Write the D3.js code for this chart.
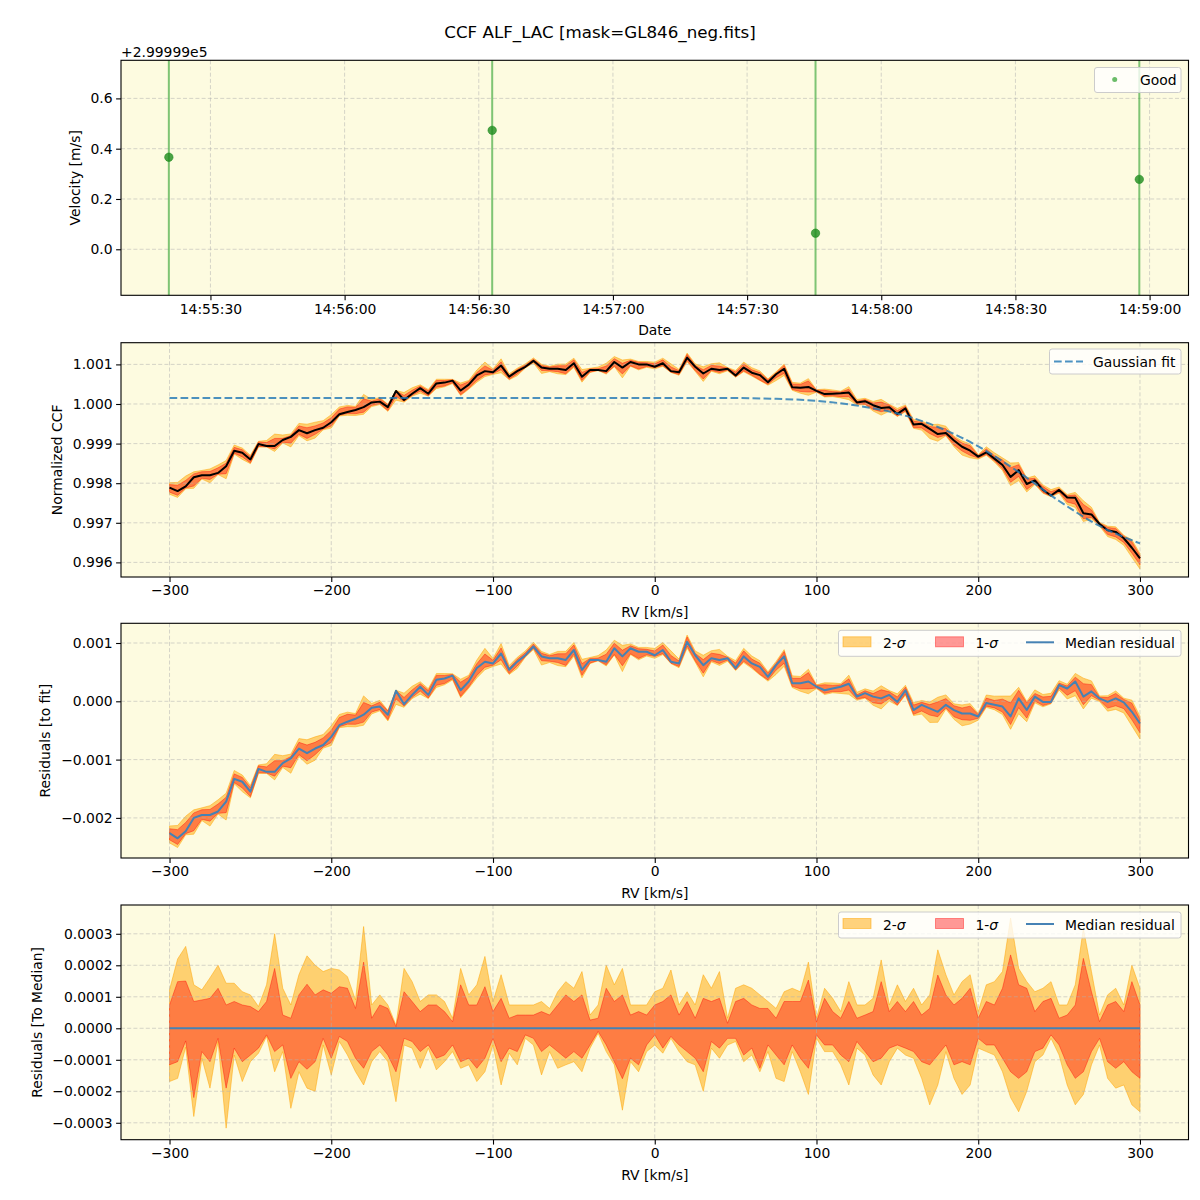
<!DOCTYPE html>
<html><head><meta charset="utf-8">
<script src="https://cdn.jsdelivr.net/npm/d3@7"></script>
<style>body{margin:0;background:#fff} text{font-family:"DejaVu Sans",sans-serif;fill:#000}</style>
</head><body><svg id="c" width="1200" height="1200"></svg>
<script>
// ---------------- DATA ----------------
const rv = d3.range(-300, 301, 5); // km/s sampling grid
// median residual to the Gaussian fit, units of 1e-3
const residMed = [-2.26,-2.35,-2.23,-2.00,-1.95,-1.95,-1.89,-1.72,-1.33,-1.38,-1.55,-1.16,-1.21,-1.21,-1.06,-0.98,-0.81,-0.89,-0.81,-0.75,
 -0.61,-0.41,-0.35,-0.30,-0.23,-0.11,-0.09,-0.23,0.18,-0.05,0.11,0.25,0.11,0.37,0.39,0.44,0.19,0.34,0.57,0.68,
 0.65,0.82,0.54,0.68,0.79,0.94,0.77,0.74,0.74,0.71,0.88,0.54,0.71,0.71,0.68,0.91,0.77,0.91,0.85,0.85,
 0.79,0.88,0.68,0.65,1.02,0.79,0.62,0.74,0.71,0.74,0.57,0.77,0.65,0.59,0.42,0.62,0.77,0.31,0.31,0.34,
 0.25,0.19,0.22,0.25,0.30,0.08,0.14,0.08,0.05,0.11,-0.01,0.19,-0.15,-0.06,-0.12,-0.18,-0.06,-0.15,-0.21,-0.21,
 -0.26,-0.03,-0.06,-0.09,-0.26,0.05,-0.15,0.08,-0.01,-0.01,0.28,0.22,0.34,0.08,0.17,0.05,-0.01,0.05,-0.02,-0.18,-0.38];
// median normalized CCF minus 1, units of 1e-3
const ccfOff = [-2.11,-2.20,-2.08,-1.85,-1.80,-1.80,-1.74,-1.57,-1.18,-1.23,-1.40,-1.01,-1.06,-1.06,-0.91,-0.83,-0.66,-0.74,-0.66,-0.60,
 -0.46,-0.26,-0.20,-0.15,-0.08,0.04,0.06,-0.08,0.33,0.10,0.26,0.40,0.26,0.52,0.54,0.59,0.34,0.49,0.72,0.83,
 0.80,0.97,0.69,0.83,0.94,1.09,0.92,0.89,0.89,0.86,1.03,0.69,0.86,0.86,0.83,1.06,0.92,1.06,1.00,1.00,
 0.94,1.03,0.83,0.80,1.17,0.94,0.77,0.89,0.86,0.89,0.72,0.92,0.79,0.73,0.55,0.75,0.89,0.42,0.41,0.43,
 0.33,0.25,0.26,0.27,0.29,0.04,0.07,-0.03,-0.10,-0.08,-0.25,-0.11,-0.52,-0.50,-0.63,-0.76,-0.73,-0.92,-1.08,-1.18,
 -1.33,-1.22,-1.38,-1.54,-1.84,-1.67,-2.02,-1.93,-2.17,-2.31,-2.17,-2.36,-2.37,-2.76,-2.79,-3.03,-3.19,-3.23,-3.39,-3.63,-3.90];
// Gaussian fit, minus 1, units of 1e-3
const fitRV  = [-300,-200,-100,0,50,75,100,125,150,175,200,225,250,275,300];
const fitOff = [0.15,0.15,0.15,0.15,0.15,0.13,0.08,-0.04,-0.24,-0.58,-1.07,-1.72,-2.45,-3.08,-3.52];
// band edges relative to the median, units of 1e-4
const sig2Up = [1.22,2.2,2.6,1.38,1.22,1.6,2.0,1.43,1.43,1.16,1.06,0.69,1.38,3.0,1.27,0.74,1.7,2.3,2.0,1.8,
 1.9,1.85,1.64,0.9,3.23,0.74,1.06,0.74,0.1,1.9,1.48,0.85,1.06,1.06,0.85,0.32,1.9,1.06,1.38,2.28,
 0.85,1.7,0.74,0.74,0.74,0.74,0.85,0.63,1.16,1.48,1.27,1.8,0.42,0.74,2.0,1.38,1.9,0.74,0.74,0.74,
 1.16,1.27,1.85,0.74,1.16,0.74,1.7,1.27,1.8,0.32,1.27,1.38,1.27,1.06,0.85,0.63,1.16,1.27,1.16,2.1,
 0.32,1.27,0.95,0.53,1.48,0.74,0.74,0.95,2.17,0.74,1.38,0.85,1.27,0.74,1.06,2.49,1.7,1.06,1.48,1.7,
 0.53,1.38,1.48,1.8,3.5,1.9,1.48,1.16,1.27,1.48,0.74,0.74,1.38,3.17,1.8,0.42,1.06,1.27,0.74,2.0,1.27];
const sig1Up = [0.74,1.48,1.5,0.85,0.9,0.95,1.27,0.74,0.85,0.74,0.69,0.53,0.85,1.9,0.42,0.32,1.06,1.4,1.06,1.22,
 1.11,1.32,1.27,0.63,2.1,0.32,0.74,0.63,0.05,1.16,0.85,0.53,0.74,0.74,0.53,0.21,1.38,0.74,0.74,1.32,
 0.53,0.95,0.32,0.42,0.42,0.42,0.53,0.42,0.74,1.06,0.85,1.06,0.26,0.32,1.27,0.85,1.06,0.42,0.53,0.42,
 0.74,0.85,1.06,0.42,0.85,0.32,0.95,0.85,0.95,0.16,0.85,0.95,0.74,0.63,0.63,0.32,0.85,0.85,0.85,1.53,
 0.21,0.95,0.53,0.32,0.85,0.32,0.42,0.53,1.48,0.53,0.85,0.53,0.85,0.42,0.63,1.69,1.06,0.74,0.95,1.27,
 0.32,0.85,0.74,1.27,2.33,1.38,1.27,0.53,0.85,0.95,0.32,0.42,0.74,2.22,1.16,0.21,0.74,0.85,0.53,1.48,0.74];
const sig1Lo = [-1.16,-1.06,-0.4,-2.2,-0.74,-1.06,-0.32,-1.9,-0.63,-1.06,-0.85,-0.63,-0.21,-0.74,-0.53,-1.59,-1.06,-1.3,-1.06,-0.32,
 -0.95,-0.26,-0.42,-0.95,-1.27,-0.74,-0.53,-0.85,-1.38,-0.32,-0.42,-0.74,-0.53,-0.95,-0.85,-0.53,-1.06,-0.95,-1.27,-0.95,
 -0.32,-1.06,-0.63,-0.74,-0.21,-0.32,-0.74,-0.53,-0.74,-0.95,-0.74,-0.95,-0.53,-0.1,-0.53,-1.06,-1.6,-0.95,-1.16,-0.53,
 -0.21,-0.63,-0.26,-0.53,-0.74,-0.95,-1.38,-0.42,-0.63,-0.32,-0.32,-0.85,-0.63,-1.27,-0.53,-0.85,-1.16,-0.53,-0.95,-1.27,
 -0.21,-0.53,-0.53,-0.85,-1.06,-0.42,-0.74,-1.06,-0.95,-0.63,-0.53,-0.63,-0.74,-1.06,-1.16,-0.85,-0.53,-1.16,-1.06,-1.16,
 -0.32,-0.53,-0.53,-0.95,-1.38,-1.59,-1.38,-0.74,-0.63,-0.21,-0.53,-1.16,-1.59,-1.38,-0.74,-0.32,-1.06,-1.27,-1.06,-1.38,-1.59];
const sig2Lo = [-1.69,-1.59,-0.6,-2.8,-0.95,-1.9,-0.42,-3.17,-0.85,-1.69,-1.06,-0.79,-0.26,-1.38,-0.74,-2.54,-1.38,-1.9,-2.0,-0.53,
 -1.48,-0.42,-0.85,-1.38,-1.8,-1.06,-0.74,-1.06,-2.33,-0.53,-0.63,-1.27,-0.63,-1.32,-1.06,-0.74,-1.27,-1.16,-1.69,-1.38,
 -0.53,-1.8,-0.79,-1.16,-0.32,-0.53,-1.48,-0.74,-1.27,-1.16,-1.06,-1.38,-0.63,-0.16,-0.74,-1.16,-2.6,-1.06,-1.38,-0.74,
 -0.53,-0.79,-0.32,-0.74,-1.06,-1.16,-2.0,-0.63,-0.95,-0.53,-0.42,-1.06,-0.85,-1.38,-0.74,-1.59,-1.69,-0.74,-1.38,-2.1,
 -0.32,-0.74,-0.74,-1.16,-1.8,-0.63,-0.85,-1.48,-1.8,-1.06,-0.63,-0.85,-0.95,-1.59,-2.43,-1.8,-0.74,-1.59,-2.1,-1.8,
 -0.63,-0.74,-0.85,-1.38,-2.2,-2.65,-2.0,-1.06,-0.85,-0.32,-0.85,-1.8,-2.43,-2.1,-1.16,-0.53,-1.59,-1.9,-1.8,-2.43,-2.65];
// RV time series
const obsTimes = ["14:55:20.7","14:56:33.0","14:57:45.3","14:58:57.7"];
const obsVel = [299999.366, 299999.473, 299999.064, 299999.278];
const obsErr = [2.0, 2.0, 2.0, 2.0];
const velOffset = 299999;
const velTicks = [0.0, 0.2, 0.4, 0.6];
const rvTicks = [-300,-200,-100,0,100,200,300];
const ccfTicks = [0.996,0.997,0.998,0.999,1.000,1.001];
const resTicks = [-0.002,-0.001,0.000,0.001];
const medTicks = [-0.0003,-0.0002,-0.0001,0,0.0001,0.0002,0.0003];

// ---------------- LAYOUT ----------------
const svg = d3.select("#c");
const L = 121, R = 1188.5, BG = "#fdfbe0";
const FS = "13.9px";
const C2 = "#ffa500", C1 = "#ff0000", MED = "#4682b4";
function tparse(s){const [h,m,sec]=s.split(":");return new Date(Date.UTC(2000,0,1,+h,+m,0,Math.round(+sec*1000)));}

svg.append("text").attr("x",600).attr("y",38).attr("text-anchor","middle").style("font-size","16.7px")
  .text("CCF ALF_LAC [mask=GL846_neg.fits]");

let clipN = 0;
function makePanel(top, bottom, x, y, xTickVals, xFmt, yTickVals, yFmt, xlabel, ylabel, ylabX){
  const g = svg.append("g");
  g.append("rect").attr("x",L).attr("y",top).attr("width",R-L).attr("height",bottom-top).attr("fill",BG);
  const id = "clip"+(clipN++);
  svg.append("clipPath").attr("id",id).append("rect").attr("x",L).attr("y",top).attr("width",R-L).attr("height",bottom-top);
  const fills = g.append("g").attr("clip-path",`url(#${id})`);
  const grid = g.append("g").attr("stroke","#b0b0b0").attr("stroke-opacity",0.65).attr("stroke-width",0.8).attr("stroke-dasharray","4,2.2");
  xTickVals.forEach(v=>grid.append("line").attr("x1",x(v)).attr("x2",x(v)).attr("y1",top).attr("y2",bottom));
  yTickVals.forEach(v=>grid.append("line").attr("x1",L).attr("x2",R).attr("y1",y(v)).attr("y2",y(v)));
  const lines = g.append("g").attr("clip-path",`url(#${id})`);
  g.append("rect").attr("x",L).attr("y",top).attr("width",R-L).attr("height",bottom-top).attr("fill","none").attr("stroke","#000").attr("stroke-width",1.1);
  const ax = g.append("g").attr("transform",`translate(0,${bottom})`)
    .call(d3.axisBottom(x).tickValues(xTickVals).tickFormat(xFmt).tickSize(4.9).tickPadding(3.5));
  const ay = g.append("g").attr("transform",`translate(${L},0)`)
    .call(d3.axisLeft(y).tickValues(yTickVals).tickFormat(yFmt).tickSize(4.9).tickPadding(3.5));
  [ax,ay].forEach(a=>{a.select(".domain").remove();a.selectAll("line").attr("stroke","#000").attr("stroke-width",1.1);
    a.selectAll("text").style("font-size",FS).style("font-family","DejaVu Sans").attr("fill","#000");});
  g.append("text").attr("x",(L+R)/2).attr("y",bottom+40).attr("text-anchor","middle").style("font-size",FS).text(xlabel);
  g.append("text").attr("transform",`translate(${ylabX},${(top+bottom)/2}) rotate(-90)`).attr("text-anchor","middle").style("font-size",FS).text(ylabel);
  const leg = g.append("g");
  return {fills, lines, leg};
}

function bandLegend(leg, top){
  const y0 = top+7;
  leg.append("rect").attr("x",838.5).attr("y",y0).attr("width",342.5).attr("height",26).attr("rx",2.5)
    .attr("fill","#fff").attr("fill-opacity",0.8).attr("stroke","#cccccc");
  leg.append("rect").attr("x",843).attr("y",y0+6.5).attr("width",28).attr("height",10)
    .attr("fill",C2).attr("fill-opacity",0.5).attr("stroke",C2).attr("stroke-opacity",0.5);
  leg.append("text").attr("x",883).attr("y",y0+17.5).style("font-size",FS).text("2-").append("tspan").style("font-style","italic").text("σ");
  leg.append("rect").attr("x",935.5).attr("y",y0+6.5).attr("width",28).attr("height",10)
    .attr("fill",C1).attr("fill-opacity",0.4).attr("stroke",C1).attr("stroke-opacity",0.4);
  leg.append("text").attr("x",975.5).attr("y",y0+17.5).style("font-size",FS).text("1-").append("tspan").style("font-style","italic").text("σ");
  leg.append("line").attr("x1",1026).attr("x2",1054).attr("y1",y0+12).attr("y2",y0+12).attr("stroke",MED).attr("stroke-width",2);
  leg.append("text").attr("x",1065).attr("y",y0+17.5).style("font-size",FS).text("Median residual");
}

function drawBands(p, x, y, base){
  const idx = rv.map((d,i)=>i);
  const a2 = d3.area().x(i=>x(rv[i])).y0(i=>y(base(i)+sig2Lo[i]*1e-4)).y1(i=>y(base(i)+sig2Up[i]*1e-4));
  const a1 = d3.area().x(i=>x(rv[i])).y0(i=>y(base(i)+sig1Lo[i]*1e-4)).y1(i=>y(base(i)+sig1Up[i]*1e-4));
  p.fills.append("path").attr("d",a2(idx)).attr("fill",C2).attr("fill-opacity",0.5).attr("stroke",C2).attr("stroke-opacity",0.5).attr("stroke-width",1);
  p.fills.append("path").attr("d",a1(idx)).attr("fill",C1).attr("fill-opacity",0.4).attr("stroke",C1).attr("stroke-opacity",0.4).attr("stroke-width",1);
}

// ---------- Panel 1: velocity vs time ----------
const xT = d3.scaleUtc().domain([tparse("14:55:10.0"), tparse("14:59:08.7")]).range([L,R]);
const yV = d3.scaleLinear().domain([velOffset-0.183, velOffset+0.7515]).range([295.3,60.3]);
const tTicks = xT.ticks(d3.utcSecond.every(30));
const p1 = makePanel(60.3, 295.3, xT, yV, tTicks, d3.utcFormat("%H:%M:%S"),
  velTicks.map(v=>velOffset+v), d=>(d-velOffset).toFixed(1), "Date", "Velocity [m/s]", 79.5);
svg.append("text").attr("x",L).attr("y",56.5).style("font-size",FS).text("+2.99999e5");
obsTimes.forEach((t,i)=>{
  const xx = xT(tparse(t));
  p1.lines.append("line").attr("x1",xx).attr("x2",xx).attr("y1",yV(obsVel[i]-obsErr[i])).attr("y2",yV(obsVel[i]+obsErr[i]))
    .attr("stroke","#2ca02c").attr("stroke-opacity",0.6).attr("stroke-width",2);
  p1.lines.append("circle").attr("cx",xx).attr("cy",yV(obsVel[i])).attr("r",4.2)
    .attr("fill","#1e8c1e").attr("fill-opacity",0.8).attr("stroke","#1e8c1e").attr("stroke-opacity",0.6).attr("stroke-width",1);
});
p1.leg.append("rect").attr("x",1094.5).attr("y",67.5).attr("width",86.5).attr("height",25).attr("rx",2.5)
  .attr("fill","#fff").attr("fill-opacity",0.8).attr("stroke","#cccccc");
p1.leg.append("circle").attr("cx",1114.7).attr("cy",79.5).attr("r",2.5).attr("fill","#2ca02c").attr("fill-opacity",0.7);
p1.leg.append("text").attr("x",1140).attr("y",84.5).style("font-size",FS).text("Good");

// ---------- Panel 2: CCF ----------
const xR = d3.scaleLinear().domain([-330,330]).range([L,R]);
const yC = d3.scaleLinear().domain([0.995631,1.001548]).range([577,342.7]);
const p2 = makePanel(342.7, 577, xR, yC, rvTicks, d3.format("d"), ccfTicks, d3.format(".3f"), "RV [km/s]", "Normalized CCF", 62);
drawBands(p2, xR, yC, i=>1+ccfOff[i]*1e-3);
p2.lines.append("path").datum(rv.map((d,i)=>i))
  .attr("d",d3.line().x(i=>xR(rv[i])).y(i=>yC(1+ccfOff[i]*1e-3)))
  .attr("fill","none").attr("stroke","#000").attr("stroke-width",2).attr("stroke-linejoin","round");
p2.lines.append("path").datum(fitRV.map((d,i)=>i))
  .attr("d",d3.line().curve(d3.curveMonotoneX).x(i=>xR(fitRV[i])).y(i=>yC(1+fitOff[i]*1e-3)))
  .attr("fill","none").attr("stroke","#1f77b4").attr("stroke-opacity",0.8).attr("stroke-width",2).attr("stroke-dasharray","7.7,3.3");
p2.leg.append("rect").attr("x",1049.5).attr("y",349).attr("width",131.5).attr("height",25).attr("rx",2.5)
  .attr("fill","#fff").attr("fill-opacity",0.8).attr("stroke","#cccccc");
p2.leg.append("line").attr("x1",1054).attr("x2",1083).attr("y1",361.5).attr("y2",361.5)
  .attr("stroke","#1f77b4").attr("stroke-opacity",0.8).attr("stroke-width",2).attr("stroke-dasharray","7.7,3.3");
p2.leg.append("text").attr("x",1093).attr("y",366.5).style("font-size",FS).text("Gaussian fit");

// ---------- Panel 3: residuals to fit ----------
const yRs = d3.scaleLinear().domain([-0.002688,0.001338]).range([858,623.3]);
const p3 = makePanel(623.3, 858, xR, yRs, rvTicks, d3.format("d"), resTicks, d3.format(".3f"), "RV [km/s]", "Residuals [to fit]", 50);
drawBands(p3, xR, yRs, i=>residMed[i]*1e-3);
p3.lines.append("path").datum(rv.map((d,i)=>i))
  .attr("d",d3.line().x(i=>xR(rv[i])).y(i=>yRs(residMed[i]*1e-3)))
  .attr("fill","none").attr("stroke",MED).attr("stroke-width",2).attr("stroke-linejoin","round");
bandLegend(p3.leg, 623.3);

// ---------- Panel 4: residuals to median ----------
const yM = d3.scaleLinear().domain([-0.0003537,0.0003914]).range([1139.7,905]);
const p4 = makePanel(905, 1139.7, xR, yM, rvTicks, d3.format("d"), medTicks, d3.format(".4f"), "RV [km/s]", "Residuals [To Median]", 42);
drawBands(p4, xR, yM, i=>0);
p4.lines.append("path").datum(rv.map((d,i)=>i))
  .attr("d",d3.line().x(i=>xR(rv[i])).y(()=>yM(0)))
  .attr("fill","none").attr("stroke",MED).attr("stroke-width",2);
bandLegend(p4.leg, 905);
</script></body></html>
